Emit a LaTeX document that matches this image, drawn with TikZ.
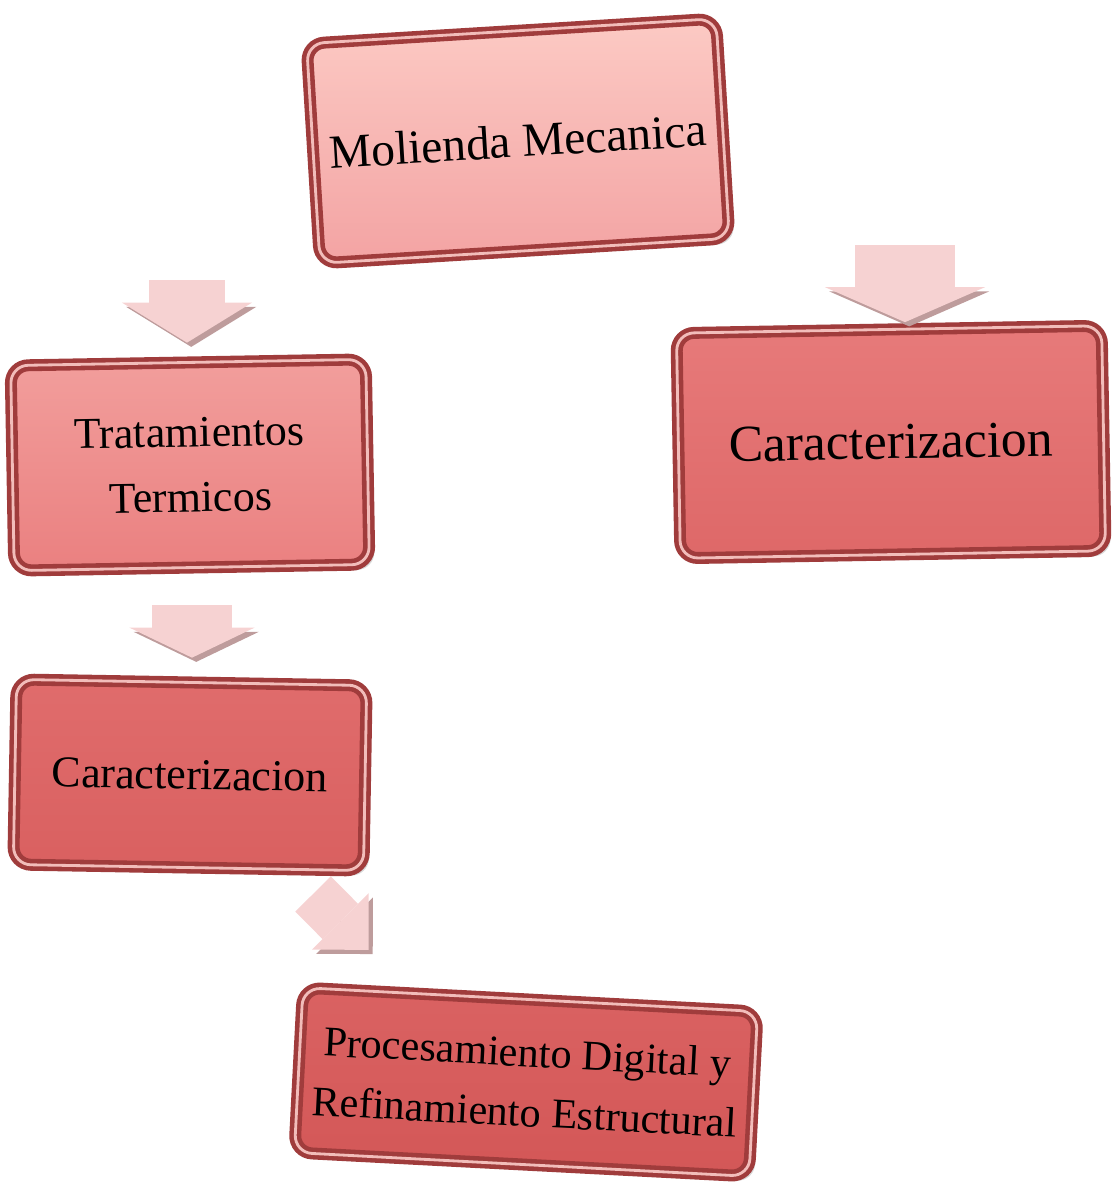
\documentclass[tikz,border=0pt]{standalone}
\usepackage{fontspec}
\setmainfont{Liberation Serif}
\usetikzlibrary{arrows.meta,shadows}

\definecolor{borde}{HTML}{A03C3C}
\definecolor{brillo}{HTML}{F2BDBA}
\definecolor{rosa}{HTML}{F6D2D2}
\definecolor{gris}{HTML}{BE9C9C}
\definecolor{molA}{HTML}{FCCAC4}
\definecolor{molB}{HTML}{F3A3A3}
\definecolor{tratA}{HTML}{F29E9C}
\definecolor{tratB}{HTML}{EA8080}
\definecolor{derA}{HTML}{E77A7A}
\definecolor{derB}{HTML}{DE6868}
\definecolor{izqA}{HTML}{E06C6C}
\definecolor{izqB}{HTML}{D96060}
\definecolor{procA}{HTML}{DA6262}
\definecolor{procB}{HTML}{D35757}

\begin{document}
\begin{tikzpicture}[x=0.01cm,y=-0.01cm,
    caja/.style={draw=borde,line width=1.3pt,double=brillo,double distance=0.8pt,rounded corners=5pt,inner sep=0pt,align=center,
      drop shadow={shadow xshift=1.5pt,shadow yshift=-1.5pt,opacity=0.3}},
    flecha/.style n args={3}{draw=rosa,line width=#1,-{Triangle[width=#2,length=#3,line width=0pt]},
      preaction={draw=gris,transform canvas={shift={(1.2pt,-1.2pt)}}}}]
    \useasboundingbox (0,0) rectangle (1114,1184);

    \node[caja,top color=molA,bottom color=molB,minimum width=4.1cm,minimum height=2.2cm,rotate=3.5,
      font=\fontsize{13.5}{16}\selectfont] (molienda) at (518,141) {Molienda Mecanica};
    \node[caja,top color=tratA,bottom color=tratB,minimum width=3.55cm,minimum height=2.05cm,rotate=1,
      font=\fontsize{12.5}{18.5}\selectfont] (trat) at (190,465) {Tratamientos\\Termicos};
    \node[caja,top color=derA,bottom color=derB,minimum width=4.25cm,minimum height=2.25cm,rotate=1,
      font=\fontsize{14.7}{17}\selectfont] (caracDer) at (891,442) {Caracterizacion};
    \node[caja,top color=izqA,bottom color=izqB,minimum width=3.5cm,minimum height=1.85cm,rotate=-1,
      font=\fontsize{12.5}{15}\selectfont] (caracIzq) at (190,775) {Caracterizacion};
    \node[caja,top color=procA,bottom color=procB,minimum width=4.55cm,minimum height=1.65cm,rotate=-3,
      font=\fontsize{12}{17}\selectfont] (proc) at (526,1082) {Procesamiento Digital y\\Refinamiento Estructural};

    \coordinate (a1) at (187,280);
    \coordinate (a2) at (905,245);
    \coordinate (a3) at (192,605);
    \coordinate (a4) at (313,894);

    \draw[flecha={0.75cm}{1.3cm}{0.4cm},shorten >=1.75mm] (a1) -- (a1 |- trat.north);
    \draw[flecha={1cm}{1.6cm}{0.35cm},shorten >=0.5mm] (a2) -- (a2 |- caracDer.north);
    \draw[flecha={0.8cm}{1.25cm}{0.3cm},shorten >=2.25mm] (a3) -- (a3 |- caracIzq.north);
    \draw[flecha={0.5cm}{0.8cm}{0.4cm},shorten >=5.8mm] (a4) -- (proc.145);
\end{tikzpicture}
\end{document}
